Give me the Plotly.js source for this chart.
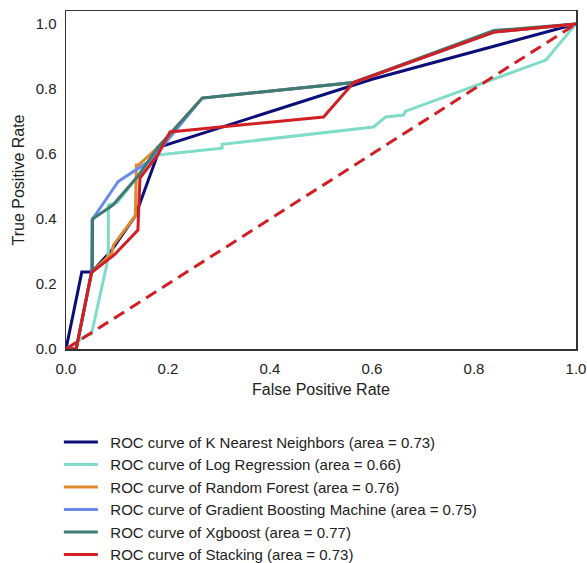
<!DOCTYPE html>
<html>
<head>
<meta charset="utf-8">
<script src="https://cdn.plot.ly/plotly-3.0.1.min.js"></script>
<style>html,body{margin:0;padding:0;background:#fff;}#chart{width:587px;height:563px;}</style>
</head>
<body>
<div id="chart"></div>
<script>
// Series data (FPR, TPR)
const knnX = [0, 0.031, 0.051, 0.09, 0.136, 0.18, 0.18, 0.6, 1.0];
const knnY = [0, 0.237, 0.237, 0.305, 0.41, 0.60, 0.62, 0.83, 1.0];

const logX = [0, 0.041, 0.05, 0.08, 0.083, 0.083, 0.1, 0.14, 0.18, 0.306, 0.306, 0.603, 0.627, 0.662, 0.666, 0.941, 1.0];
const logY = [0, 0.043, 0.046, 0.26, 0.30, 0.443, 0.45, 0.53, 0.597, 0.618, 0.63, 0.683, 0.714, 0.72, 0.732, 0.889, 1.0];

const rfX = [0, 0.02, 0.05, 0.09, 0.093, 0.136, 0.138, 0.142, 0.18, 0.267, 0.564, 0.839, 0.965, 1.0];
const rfY = [0, 0, 0.235, 0.295, 0.32, 0.41, 0.566, 0.566, 0.62, 0.772, 0.82, 0.975, 0.994, 1.0];

const gbmX = [0, 0.02, 0.05, 0.051, 0.1, 0.102, 0.165, 0.185, 0.267, 0.564, 0.839, 0.965, 1.0];
const gbmY = [0, 0, 0.235, 0.397, 0.51, 0.515, 0.58, 0.615, 0.772, 0.82, 0.975, 0.994, 1.0];

const xgbX = [0, 0.02, 0.05, 0.052, 0.052, 0.092, 0.14, 0.18, 0.267, 0.564, 0.839, 0.965, 1.0];
const xgbY = [0, 0, 0.235, 0.25, 0.40, 0.443, 0.53, 0.62, 0.772, 0.82, 0.98, 0.996, 1.0];

const stkX = [0, 0.02, 0.05, 0.09, 0.095, 0.141, 0.145, 0.18, 0.204, 0.505, 0.564, 0.839, 0.965, 1.0];
const stkY = [0, 0, 0.235, 0.283, 0.29, 0.366, 0.526, 0.597, 0.668, 0.714, 0.82, 0.975, 0.994, 1.0];

const chanceX = [0, 1];
const chanceY = [0, 1];

const names = [
  'ROC curve of K Nearest Neighbors (area = 0.73)',
  'ROC curve of Log Regression (area = 0.66)',
  'ROC curve of Random Forest (area = 0.76)',
  'ROC curve of Gradient Boosting Machine (area = 0.75)',
  'ROC curve of Xgboost (area = 0.77)',
  'ROC curve of Stacking (area = 0.73)'
];
const colors = ['#0d0d78', '#7fdcc6', '#e0892a', '#6b8be8', '#3e7b72', '#d21f24'];
const xs = [knnX, logX, rfX, gbmX, xgbX, stkX];
const ys = [knnY, logY, rfY, gbmY, xgbY, stkY];
const tickVals = [0, 0.2, 0.4, 0.6, 0.8, 1.0];
const tickText = ['0.0', '0.2', '0.4', '0.6', '0.8', '1.0'];

const traces = names.map((n, i) => ({
  x: xs[i], y: ys[i], name: '\u2002' + n, type: 'scatter', mode: 'lines',
  line: {color: colors[i], width: 3}
}));
traces.push({
  x: chanceX, y: chanceY, type: 'scatter', mode: 'lines', showlegend: false,
  line: {color: '#d21f24', width: 3, dash: '12px,7px'}
});

const axisCommon = {
  tickvals: tickVals, ticktext: tickText,
  showgrid: false, zeroline: false, showline: true, mirror: true, linecolor: '#333', linewidth: 1.5,
  ticks: 'outside', ticklen: 5, tickcolor: 'rgba(0,0,0,0)',
  tickfont: {size: 15}
};

const layout = {
  width: 587, height: 563,
  margin: {l: 66, r: 11, t: 11, b: 214, autoexpand: false},
  paper_bgcolor: '#ffffff', plot_bgcolor: '#ffffff',
  font: {family: 'Liberation Sans, Arial, sans-serif', size: 15, color: '#222'},
  xaxis: Object.assign({}, axisCommon, {
    range: [0, 1],
    title: {text: 'False Positive Rate', font: {size: 16}, standoff: 8}
  }),
  yaxis: Object.assign({}, axisCommon, {
    range: [0, 1.04],
    title: {text: 'True Positive Rate', font: {size: 16}, standoff: 7}
  }),
  showlegend: true,
  legend: {
    x: -0.014, xanchor: 'left', y: -0.227, yanchor: 'top',
    font: {size: 15}, bgcolor: 'rgba(0,0,0,0)', borderwidth: 0,
    tracegroupgap: 0, itemwidth: 34
  }
};

Plotly.newPlot('chart', traces, layout, {displayModeBar: false, staticPlot: true});
</script>
</body>
</html>
